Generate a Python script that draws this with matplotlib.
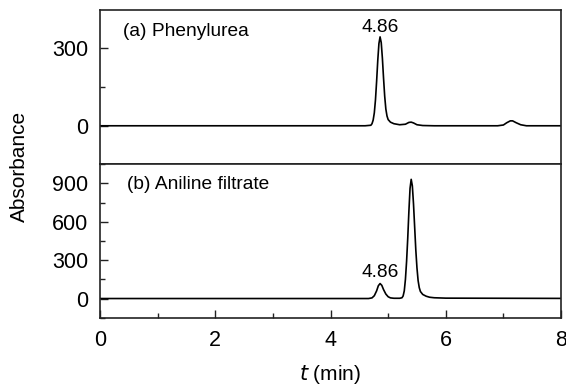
import matplotlib
matplotlib.use("Agg")
import matplotlib.pyplot as plt
from matplotlib.ticker import MultipleLocator

plt.rcParams['font.family'] = ['Liberation Sans', 'DejaVu Sans']

# (a) Phenylurea trace
t_a = [0.0, 4.60, 4.70, 4.72, 4.74, 4.76, 4.78, 4.80, 4.82, 4.84, 4.86,
       4.88, 4.90, 4.92, 4.94, 4.96, 4.98, 5.00, 5.04, 5.10, 5.20, 5.30,
       5.36, 5.40, 5.44, 5.50, 5.60, 5.80, 6.90, 7.00, 7.06, 7.12, 7.16,
       7.22, 7.30, 7.40, 8.0]
abs_a = [0, 0, 2, 8, 22, 50, 100, 172, 253, 318, 344,
         322, 262, 185, 115, 65, 38, 24, 14, 8, 4, 6,
         13, 14, 11, 4, 1, 0, 0, 3, 12, 19, 19,
         12, 4, 0, 0]

# (b) Aniline filtrate trace
t_b = [0.0, 4.66, 4.72, 4.76, 4.80, 4.83, 4.86, 4.89, 4.92, 4.96, 5.00,
       5.04, 5.10, 5.20, 5.24, 5.26, 5.28, 5.30, 5.32, 5.34, 5.36, 5.38,
       5.40, 5.42, 5.44, 5.46, 5.48, 5.50, 5.52, 5.54, 5.56, 5.60, 5.66,
       5.72, 5.80, 6.00, 7.00, 8.0]
abs_b = [0, 0, 5, 22, 60, 100, 117, 103, 70, 35, 14,
         5, 2, 2, 6, 20, 60, 150, 290, 470, 680, 860,
         931, 880, 740, 560, 380, 240, 140, 85, 55, 32, 18,
         10, 6, 3, 2, 1]

peak_label = "4.86"
peak_t = 4.86


def style_axis(ax):
    for s in ax.spines.values():
        s.set_linewidth(1.2)
        s.set_color("#222222")
    ax.tick_params(direction="in", which="major", length=6, width=1,
                   labelsize=15.5, pad=8.5, colors="#222222", labelcolor="black")
    ax.tick_params(direction="in", which="minor", length=3.5, width=1,
                   colors="#222222")


fig = plt.figure(figsize=(5.66, 3.86), dpi=100)
ax1 = fig.add_axes([0.1767, 0.5764, 0.8145, 0.3977])
ax2 = fig.add_axes([0.1767, 0.1762, 0.8145, 0.399])

ax1.plot(t_a, abs_a, color="black", lw=1.2)
ax1.set_xlim(0, 8)
ax1.set_ylim(-146, 448)
ax1.set_yticks([0, 300])
ax1.yaxis.set_minor_locator(MultipleLocator(150))
ax1.set_xticks([])
style_axis(ax1)
ax1.text(0.05, 0.857, "(a) Phenylurea", transform=ax1.transAxes,
         fontsize=13.8, va="center")
ax1.annotate(peak_label, xy=(peak_t, 344), xytext=(0, 6.5),
             textcoords="offset points", ha="center", va="center", fontsize=13.8)

ax2.plot(t_b, abs_b, color="black", lw=1.2)
ax2.set_xlim(0, 8)
ax2.set_ylim(-152, 1051)
ax2.set_yticks([0, 300, 600, 900])
ax2.yaxis.set_minor_locator(MultipleLocator(150))
ax2.set_xticks([0, 2, 4, 6, 8])
ax2.xaxis.set_minor_locator(MultipleLocator(1))
style_axis(ax2)
ax2.tick_params(axis="x", pad=9)
ax2.text(0.058, 0.864, "(b) Aniline filtrate", transform=ax2.transAxes,
         fontsize=13.8, va="center")
ax2.annotate(peak_label, xy=(peak_t, 117), xytext=(0, 7.6),
             textcoords="offset points", ha="center", va="center", fontsize=13.8)

fig.text(0.584, 0.03, "$\\it{t}$ (min)", ha="center", va="center", fontsize=15)
fig.text(0.034, 0.57, "Absorbance", rotation=90, ha="center", va="center",
         fontsize=15)

plt.savefig("out.png", dpi=100)
plt.close()
